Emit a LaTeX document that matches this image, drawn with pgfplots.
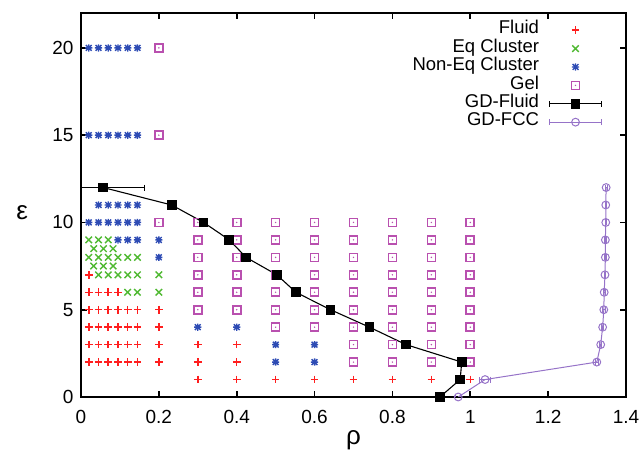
\documentclass[border=0pt]{standalone}
\usepackage{fontspec}
\setmainfont{Liberation Sans}
\usepackage{pgfplots}
\pgfplotsset{compat=1.18}
\definecolor{fluidred}{RGB}{255,30,30}
\definecolor{eqgreen}{RGB}{80,185,50}
\definecolor{neqblue}{RGB}{45,75,180}
\definecolor{gelpurple}{RGB}{185,80,175}
\definecolor{fccpurple}{RGB}{150,115,200}
\pgfdeclareplotmark{boxdot}{%
  \pgfpathrectangle{\pgfqpoint{-\pgfplotmarksize}{-\pgfplotmarksize}}{\pgfqpoint{2\pgfplotmarksize}{2\pgfplotmarksize}}%
  \pgfusepathqstroke
  \pgfpathcircle{\pgfpointorigin}{0.8pt}\pgfusepathqfill}
\pgfdeclareplotmark{gstar}{%
  \pgfpathmoveto{\pgfqpoint{-\pgfplotmarksize}{0pt}}\pgfpathlineto{\pgfqpoint{\pgfplotmarksize}{0pt}}%
  \pgfpathmoveto{\pgfqpoint{0pt}{-\pgfplotmarksize}}\pgfpathlineto{\pgfqpoint{0pt}{\pgfplotmarksize}}%
  \pgfpathmoveto{\pgfqpoint{-.8\pgfplotmarksize}{-.8\pgfplotmarksize}}\pgfpathlineto{\pgfqpoint{.8\pgfplotmarksize}{.8\pgfplotmarksize}}%
  \pgfpathmoveto{\pgfqpoint{-.8\pgfplotmarksize}{.8\pgfplotmarksize}}\pgfpathlineto{\pgfqpoint{.8\pgfplotmarksize}{-.8\pgfplotmarksize}}%
  \pgfusepathqstroke}
\pgfplotsset{
  markleg/.style={legend image code/.code={\draw[mark repeat=2,mark phase=2,##1] plot coordinates {(0pt,0pt)(26pt,0pt)(52pt,0pt)};}},
  errleg/.style={legend image code/.code={\draw[mark repeat=2,mark phase=2,##1] plot coordinates {(0pt,0pt)(26pt,0pt)(52pt,0pt)};
     \draw[##1,mark=none] (0pt,-3pt)--(0pt,3pt) (52pt,-3pt)--(52pt,3pt);}},
}
\begin{document}
\begin{tikzpicture}
\useasboundingbox (-81pt,-57pt) rectangle (560pt,397pt);
\begin{axis}[
  at={(0pt,0pt)}, anchor=south west,
  scale only axis, width=545pt, height=384pt,
  xmin=0, xmax=1.4, ymin=0, ymax=22,
  xtick={0,0.2,0.4,0.6,0.8,1,1.2,1.4},
  xticklabels={0,0.2,0.4,0.6,0.8,1,1.2,1.4},
  ytick={0,5,10,15,20}, yticklabels={0,5,10,15,20},
  tick align=inside, major tick length=6pt,
  axis line style={line width=1.6pt},
  every tick/.style={line width=1.6pt, black},
  /pgf/number format/assume math mode=true,
  tick label style={font=\fontsize{19}{22}\selectfont},
  xticklabel style={yshift=-10pt},
  yticklabel style={xshift=-4pt},
  xlabel={ρ}, ylabel={ε},
  xlabel style={at={(axis description cs:0.5,0)}, anchor=center, yshift=-43pt, font=\fontsize{26}{28}\selectfont},
  ylabel style={at={(axis description cs:-0.108,0.48)}, anchor=center, rotate=-90, font=\fontsize{26}{28}\selectfont},
  legend style={draw=none, fill=none, at={(0.962,0.985)}, anchor=north east,
    font=\fontsize{18.5}{20}\selectfont, row sep=0pt, column sep=10pt,
    nodes={inner sep=0pt, text height=13pt, text depth=5.4pt}},
  legend cell align=right, legend plot pos=right,
  clip=true,
]
% Fluid
\addplot[only marks, mark=+, mark size=3.8pt, color=fluidred, mark options={draw=fluidred}, line width=1.5pt, markleg] coordinates {
 (0.02,7)
 (0.02,6)(0.045,6)(0.07,6)(0.095,6)
 (0.02,5)(0.045,5)(0.07,5)(0.095,5)(0.12,5)(0.145,5)(0.2,5)
 (0.02,4)(0.045,4)(0.07,4)(0.095,4)(0.12,4)(0.145,4)(0.2,4)
 (0.02,3)(0.045,3)(0.07,3)(0.095,3)(0.12,3)(0.145,3)(0.2,3)(0.3,3)(0.4,3)
 (0.02,2)(0.045,2)(0.07,2)(0.095,2)(0.12,2)(0.145,2)(0.2,2)(0.3,2)(0.4,2)
 (0.3,1)(0.4,1)(0.5,1)(0.6,1)(0.7,1)(0.8,1)(0.9,1)(1.0,1)
};
\addlegendentry{Fluid}
% Eq Cluster
\addplot[only marks, mark=x, mark size=4.6pt, color=eqgreen, mark options={draw=eqgreen}, line width=1.4pt, markleg] coordinates {
 (0.02,9)(0.045,9)(0.07,9)
 (0.0325,8.5)(0.0575,8.5)(0.0825,8.5)
 (0.02,8)(0.045,8)(0.07,8)(0.095,8)(0.12,8)(0.145,8)
 (0.0325,7.5)(0.0575,7.5)(0.0825,7.5)
 (0.045,7)(0.07,7)(0.095,7)(0.12,7)(0.145,7)(0.2,7)
 (0.12,6)(0.145,6)(0.2,6)
};
\addlegendentry{Eq Cluster}
% Non-Eq Cluster
\addplot[only marks, mark=gstar, mark size=3.6pt, color=neqblue, mark options={draw=neqblue}, line width=1.4pt, markleg] coordinates {
 (0.02,20)(0.045,20)(0.07,20)(0.095,20)(0.12,20)(0.145,20)
 (0.02,15)(0.045,15)(0.07,15)(0.095,15)(0.12,15)(0.145,15)
 (0.045,11)(0.07,11)(0.095,11)(0.12,11)(0.145,11)
 (0.02,10)(0.045,10)(0.07,10)(0.095,10)(0.12,10)(0.145,10)
 (0.095,9)(0.12,9)(0.145,9)(0.2,9)
 (0.2,8)
 (0.3,4)(0.4,4)
 (0.5,3)(0.6,3)
 (0.5,2)(0.6,2)
};
\addlegendentry{Non-Eq Cluster}
% Gel
\addplot[only marks, mark=boxdot, mark size=4pt, color=gelpurple, mark options={draw=gelpurple, fill=gelpurple}, line width=1.6pt, markleg] coordinates {
 (0.2,10)(0.2,15)(0.2,20)
 (0.3,5)(0.3,6)(0.3,7)(0.3,8)(0.3,9)(0.3,10)
 (0.4,5)(0.4,6)(0.4,7)(0.4,8)(0.4,9)(0.4,10)
 (0.5,4)(0.5,5)(0.5,6)(0.5,7)(0.5,8)(0.5,9)(0.5,10)
 (0.6,4)(0.6,5)(0.6,6)(0.6,7)(0.6,8)(0.6,9)(0.6,10)
 (0.7,2)(0.7,3)(0.7,4)(0.7,5)(0.7,6)(0.7,7)(0.7,8)(0.7,9)(0.7,10)
 (0.8,2)(0.8,3)(0.8,4)(0.8,5)(0.8,6)(0.8,7)(0.8,8)(0.8,9)(0.8,10)
 (0.9,2)(0.9,3)(0.9,4)(0.9,5)(0.9,6)(0.9,7)(0.9,8)(0.9,9)(0.9,10)
 (1.0,2)(1.0,3)(1.0,4)(1.0,5)(1.0,6)(1.0,7)(1.0,8)(1.0,9)(1.0,10)
};
\addlegendentry{Gel}
% GD-Fluid
\addplot[black, line width=1.1pt, mark=square*, mark size=4.3pt, errleg,
  error bars/.cd, x dir=both, x explicit, error bar style={line width=0.9pt, black}, error mark options={mark size=3pt, line width=0.9pt, rotate=90}]
 table[x=x, y=y, x error=ex] {
 x y ex
 0.057 12 0.106
 0.233 11 0.008
 0.315 10 0.010
 0.381 9 0.006
 0.424 8 0.005
 0.503 7 0.006
 0.552 6 0.008
 0.641 5 0.005
 0.741 4 0.008
 0.835 3 0.008
 0.978 2 0.010
 0.974 1 0.008
 0.922 0 0.008
};
\addlegendentry{GD-Fluid}
% GD-FCC
\addplot[fccpurple, line width=1.0pt, mark=o, mark size=3.9pt, errleg,
  error bars/.cd, x dir=both, x explicit, error bar style={line width=0.8pt, fccpurple}, error mark options={mark size=3pt, line width=0.8pt, rotate=90}]
 table[x=x, y=y, x error=ex] {
 x y ex
 0.969 0 0.006
 1.038 1 0.014
 1.325 2 0.004
 1.335 3 0.003
 1.340 4 0.003
 1.343 5 0.003
 1.344 6 0.002
 1.346 7 0.002
 1.347 8 0.002
 1.347 9 0.002
 1.348 10 0.002
 1.348 11 0.002
 1.349 12 0.002
};
\addlegendentry{GD-FCC}
\end{axis}
\end{tikzpicture}
\end{document}
